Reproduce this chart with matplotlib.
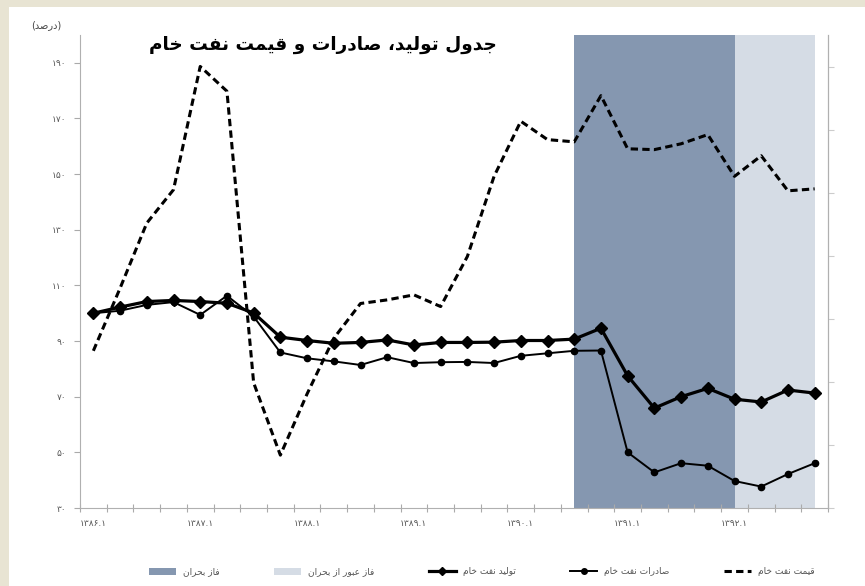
import matplotlib
matplotlib.use("Agg")
import matplotlib.pyplot as plt
from matplotlib.lines import Line2D
from matplotlib.patches import Patch, Rectangle

# quarters 1386.1 .. 1392.4
oil_price = [86.5, 109, 132.4, 144.4, 188.7, 179.8, 75, 49, 71, 91,
             103.5, 104.8, 106.6, 102.4, 120.4, 149.2, 169, 162.4, 161.6, 178.2,
             159.1, 158.8, 160.9, 164.2, 149.2, 156.6, 144, 144.7]
production = [100, 102.2, 104.2, 104.6, 104.2, 103.6, 100.1, 91.4, 90.2, 89.2,
              89.5, 90.4, 88.6, 89.5, 89.5, 89.6, 90.2, 90.2, 90.7, 94.6,
              77.5, 65.9, 70.0, 73.0, 69.1, 68.1, 72.4, 71.3]
exports = [100, 100.9, 103, 104, 99.4, 106.3, 98.8, 85.9, 83.8, 82.7,
           81.4, 84.2, 82.1, 82.4, 82.5, 82.1, 84.7, 85.6, 86.5, 86.6,
           50.0, 42.8, 46.1, 45.2, 39.7, 37.7, 42.2, 46.1]

crisis_span = (18, 24)
recovery_span = (24, 27)

x_tick_pos = [0, 4, 8, 12, 16, 20, 24]
x_tick_labels = ["۱۳۸۶.۱", "۱۳۸۷.۱", "۱۳۸۸.۱", "۱۳۸۹.۱", "۱۳۹۰.۱", "۱۳۹۱.۱", "۱۳۹۲.۱"]
y_ticks = [30, 50, 70, 90, 110, 130, 150, 170, 190]
y_tick_labels = ["۳۰", "۵۰", "۷۰", "۹۰", "۱۱۰", "۱۳۰", "۱۵۰", "۱۷۰", "۱۹۰"]

TITLE = "جدول تولید، صادرات و قیمت نفت خام"
Y_UNIT = "(درصد)"
LEG_CRISIS = "فاز بحران"
LEG_RECOVERY = "فاز عبور از بحران"
LEG_PROD = "تولید نفت خام"
LEG_EXP = "صادرات نفت خام"
LEG_PRICE = "قیمت نفت خام"

DARK = "#8597b0"
LIGHT = "#d5dce5"
BEIGE = "#e8e4d3"

# contextual forms: isolated, final, initial, medial
FORMS = {
    "ا": ("\uFE8D", "\uFE8E", None, None),
    "ب": ("\uFE8F", "\uFE90", "\uFE91", "\uFE92"),
    "ت": ("\uFE95", "\uFE96", "\uFE97", "\uFE98"),
    "ج": ("\uFE9D", "\uFE9E", "\uFE9F", "\uFEA0"),
    "ح": ("\uFEA1", "\uFEA2", "\uFEA3", "\uFEA4"),
    "خ": ("\uFEA5", "\uFEA6", "\uFEA7", "\uFEA8"),
    "د": ("\uFEA9", "\uFEAA", None, None),
    "ر": ("\uFEAD", "\uFEAE", None, None),
    "ز": ("\uFEAF", "\uFEB0", None, None),
    "ص": ("\uFEB9", "\uFEBA", "\uFEBB", "\uFEBC"),
    "ع": ("\uFEC9", "\uFECA", "\uFECB", "\uFECC"),
    "ف": ("\uFED1", "\uFED2", "\uFED3", "\uFED4"),
    "ق": ("\uFED5", "\uFED6", "\uFED7", "\uFED8"),
    "ل": ("\uFEDD", "\uFEDE", "\uFEDF", "\uFEE0"),
    "م": ("\uFEE1", "\uFEE2", "\uFEE3", "\uFEE4"),
    "ن": ("\uFEE5", "\uFEE6", "\uFEE7", "\uFEE8"),
    "و": ("\uFEED", "\uFEEE", None, None),
    "ی": ("\uFBFC", "\uFBFD", "\uFBFE", "\uFBFF"),
}


def rtl(text):
    """Shape Persian letters and reverse into visual order."""
    out = []
    for i, ch in enumerate(text):
        if ch not in FORMS:
            out.append(ch)
            continue
        prev = text[i - 1] if i > 0 else ""
        nxt = text[i + 1] if i + 1 < len(text) else ""
        iso, fin, ini, med = FORMS[ch]
        link_prev = prev in FORMS and FORMS[prev][2] is not None
        link_next = ini is not None and nxt in FORMS
        if link_prev and link_next:
            out.append(med)
        elif link_prev:
            out.append(fin)
        elif link_next:
            out.append(ini)
        else:
            out.append(iso)
    vis = "".join(reversed(out))
    return vis.translate(str.maketrans("()", ")("))


plt.rcParams["font.family"] = ["DejaVu Sans"]

fig = plt.figure(figsize=(8.65, 5.86), dpi=100)
fig.patch.set_facecolor("white")
fig.patches.append(Rectangle((0, 1 - 7 / 586), 1, 7 / 586, transform=fig.transFigure,
                             facecolor=BEIGE, edgecolor="none", zorder=0))
fig.patches.append(Rectangle((0, 0), 9 / 865, 1, transform=fig.transFigure,
                             facecolor=BEIGE, edgecolor="none", zorder=0))

ax = fig.add_axes([80 / 865, 1 - 508 / 586, 748 / 865, 473 / 586])
n = len(oil_price)
xs = list(range(n))

ax.axvspan(*crisis_span, color=DARK, lw=0, zorder=1)
ax.axvspan(*recovery_span, color=LIGHT, lw=0, zorder=1)

ax.plot(xs, oil_price, color="black", lw=2.2, ls=(0, (2.4, 1.4)), zorder=3)
ax.plot(xs, exports, color="black", lw=1.4, marker="o", ms=4.5, zorder=4)
ax.plot(xs, production, color="black", lw=2.3, marker="D", ms=6, zorder=5)

ax.set_xlim(-0.5, n - 0.5)
ax.set_ylim(30, 200)
ax.set_yticks(y_ticks)
ax.set_yticklabels(y_tick_labels)
ax.set_xticks([i - 0.5 for i in range(n + 1)])
ax.set_xticklabels([])
ax.set_xticks(x_tick_pos, minor=True)
ax.set_xticklabels(x_tick_labels, minor=True)
ax.tick_params(axis="x", which="major", direction="inout", length=6, color="#aaaaaa")
ax.tick_params(axis="x", which="minor", length=0, labelsize=6.5, labelcolor="#555555", pad=8)
ax.tick_params(axis="y", direction="out", length=4, color="#aaaaaa",
               labelsize=6.5, labelcolor="#555555", pad=6)
for side in ("left", "bottom", "right"):
    ax.spines[side].set_color("#b0b0b0")
ax.spines["top"].set_visible(False)

ax2 = ax.twinx()
ax2.set_ylim(0, 7.5)
ax2.set_yticks(range(8))
ax2.set_yticklabels([])
ax2.tick_params(axis="y", direction="out", length=4, color="#cccccc")
ax2.spines["right"].set_color("#b0b0b0")
ax2.spines["top"].set_visible(False)
ax2.spines["left"].set_visible(False)
ax2.spines["bottom"].set_visible(False)

fig.text(323 / 865, 1 - 45 / 586, rtl(TITLE), ha="center", va="center",
         fontsize=13.3, fontweight="bold", color="black")
fig.text(46 / 865, 1 - 25 / 586, rtl(Y_UNIT), ha="center", va="center",
         fontsize=7, color="#444444")

handles = [
    Patch(facecolor=DARK, edgecolor="none"),
    Patch(facecolor=LIGHT, edgecolor="none"),
    Line2D([], [], color="black", lw=2.3, marker="D", ms=4.5),
    Line2D([], [], color="black", lw=1.4, marker="o", ms=4),
    Line2D([], [], color="black", lw=2.2, ls=(0, (2.4, 1.4))),
]
labels = [rtl(LEG_CRISIS), rtl(LEG_RECOVERY), rtl(LEG_PROD), rtl(LEG_EXP), rtl(LEG_PRICE)]
leg = fig.legend(handles, labels, loc="center", bbox_to_anchor=(482 / 865, 1 - 572 / 586),
                 ncol=5, frameon=False, fontsize=6.5, handlelength=3, handleheight=0.7,
                 columnspacing=6.0, handletextpad=0.8)
for t in leg.get_texts():
    t.set_color("#555555")

fig.savefig("out.png", dpi=100)
